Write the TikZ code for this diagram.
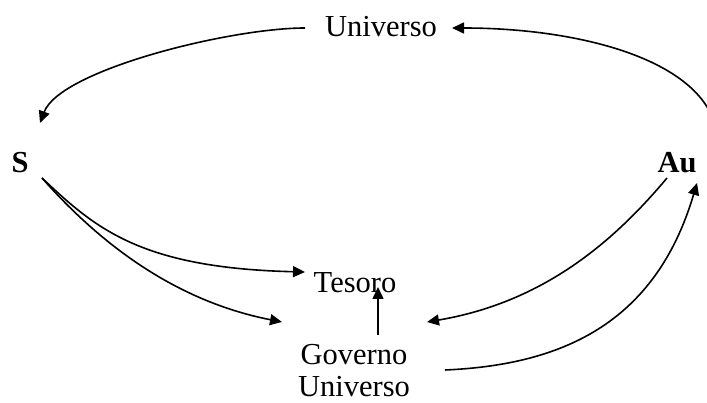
\documentclass[tikz,border=0pt]{standalone}
\usepackage{fontspec}
\setmainfont{Liberation Serif}
\usetikzlibrary{arrows.meta}

\begin{document}
\begin{tikzpicture}[x=1pt,y=-1pt,
		lbl/.style={font=\fontsize{30.5}{32}\selectfont,inner sep=0pt,align=center},
		pfeil/.style={-{Triangle[length=12pt,width=11pt]},line width=1.6pt}]
				\clip (0,0) rectangle (707,403);
				\node[lbl] (univ) at (381,27) {Universo};
				\node[lbl] (S) at (20,163) {\textbf{S}};
				\node[lbl] (Au) at (677,163) {\textbf{Au}};
				\node[lbl] (tesoro) at (355,283) {Tesoro};
				\node[lbl] (gov) at (354,371) {Governo\\Universo};
				% oben: Universo -> S, Au -> Universo
				\draw[pfeil] ([shift={(-76,1)}]univ.center) .. controls (230,28) and (60,70) .. ([shift={(20,-40)}]S.center);
				\draw[pfeil] ([shift={(40,-30)}]Au.center) .. controls (705,60) and (580,28) .. ([shift={(71,1)}]univ.center);
				% links: S -> Tesoro, S -> Governo
				\draw[pfeil] ([shift={(22,15)}]S.center) .. controls (95,228) and (140,268) .. ([shift={(-50,-11)}]tesoro.center);
				\draw[pfeil] ([shift={(22,15)}]S.center) .. controls (95,238) and (170,300) .. ([shift={(-72,-49)}]gov.center);
				% rechts: Au -> Governo, Governo -> Au
				\draw[pfeil] ([shift={(-10,15)}]Au.center) .. controls (615,240) and (545,302) .. ([shift={(73,-49)}]gov.center);
				\draw[pfeil] ([shift={(91,-1)}]gov.center) .. controls (560,365) and (655,325) .. ([shift={(20,20)}]Au.center);
				\draw[pfeil] ([shift={(24,-36)}]gov.center) -- ([shift={(23,4)}]tesoro.center);
			\end{tikzpicture}
\end{document}
